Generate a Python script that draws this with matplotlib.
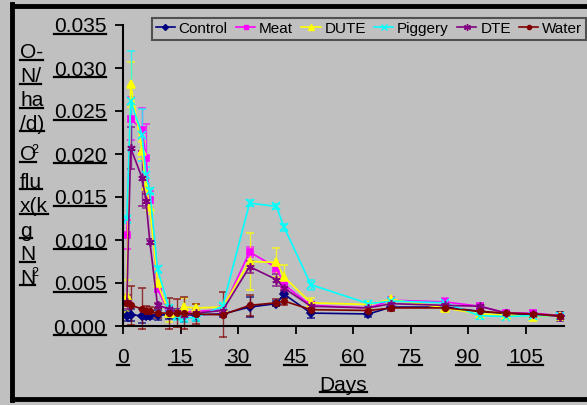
import numpy as np
import matplotlib
matplotlib.use("Agg")
import matplotlib.pyplot as plt
from matplotlib.lines import Line2D
from matplotlib.ticker import FormatStrFormatter, MultipleLocator

plt.rcParams['font.family'] = ['Liberation Sans', 'DejaVu Sans']

# sampling days
days = [1, 2, 5, 6, 7, 9, 12, 14, 16, 19, 26, 33, 40, 42, 49, 64, 70, 84, 93, 100, 107, 114]

# N2O flux (kg N2O-N/ha/d) and standard errors per treatment
control = [0.0012, 0.0013, 0.0012, 0.0012, 0.0012, 0.0013, 0.0013, 0.0014, 0.0013, 0.0013, 0.0014,
           0.0022, 0.0026, 0.0037, 0.0015, 0.0014, 0.0022, 0.0022, 0.0017, 0.0014, 0.0013, 0.0012]
control_err = [0.0006, 0.0007, 0.0008, 0.0004, 0.0004, 0.0006, 0.0005, 0.0006, 0.0008, 0.0007, 0.0004,
               0.0012, 0.0003, 0.0005, 0.0006, 0.0003, 0.0003, 0.0003, 0.0003, 0.0003, 0.0003, 0.0004]

meat = [0.0106, 0.0241, 0.0228, 0.0195, 0.0147, 0.0043, 0.0016, 0.0014, 0.0016, 0.0017, 0.0019,
        0.0086, 0.0068, 0.0048, 0.0024, 0.0021, 0.0030, 0.0028, 0.0023, 0.0015, 0.0015, 0.0012]
meat_err = [0.0017, 0.0025, 0.0025, 0.0040, 0.0010, 0.0004, 0.0004, 0.0003, 0.0004, 0.0004, 0.0004,
            0.0006, 0.0005, 0.0004, 0.0004, 0.0003, 0.0003, 0.0004, 0.0003, 0.0003, 0.0003, 0.0004]

dute = [0.0035, 0.0281, 0.0204, 0.0163, 0.0138, 0.0050, 0.0015, 0.0015, 0.0022, 0.0021, 0.0022,
        0.0075, 0.0074, 0.0057, 0.0027, 0.0025, 0.0031, 0.0021, 0.0014, 0.0013, 0.0011, 0.0012]
dute_err = [0.0019, 0.0026, 0.0010, 0.0008, 0.0008, 0.0004, 0.0010, 0.0004, 0.0011, 0.0005, 0.0005,
            0.0033, 0.0017, 0.0014, 0.0006, 0.0003, 0.0003, 0.0005, 0.0003, 0.0003, 0.0003, 0.0004]

piggery = [0.0124, 0.0262, 0.0222, 0.0175, 0.0157, 0.0066, 0.0021, 0.0012, 0.0009, 0.0010, 0.0023,
           0.0143, 0.0139, 0.0115, 0.0048, 0.0026, 0.0029, 0.0027, 0.0012, 0.0011, 0.0012, 0.0012]
piggery_err = [0.0004, 0.0058, 0.0030, 0.0010, 0.0004, 0.0004, 0.0003, 0.0005, 0.0004, 0.0004, 0.0004,
               0.0003, 0.0003, 0.0004, 0.0006, 0.0003, 0.0003, 0.0003, 0.0004, 0.0003, 0.0003, 0.0004]

dte = [0.0028, 0.0207, 0.0172, 0.0145, 0.0098, 0.0024, 0.0020, 0.0016, 0.0013, 0.0015, 0.0018,
       0.0069, 0.0054, 0.0044, 0.0023, 0.0021, 0.0026, 0.0024, 0.0023, 0.0015, 0.0014, 0.0011]
dte_err = [0.0008, 0.0024, 0.0032, 0.0008, 0.0003, 0.0003, 0.0003, 0.0003, 0.0003, 0.0003, 0.0003,
           0.0007, 0.0007, 0.0005, 0.0005, 0.0003, 0.0003, 0.0003, 0.0003, 0.0003, 0.0003, 0.0005]

water = [0.0027, 0.0024, 0.0020, 0.0018, 0.0017, 0.0015, 0.0015, 0.0015, 0.0015, 0.0014, 0.0013,
         0.0024, 0.0027, 0.0029, 0.0019, 0.0018, 0.0021, 0.0021, 0.0017, 0.0015, 0.0014, 0.0012]
water_err = [0.0004, 0.0023, 0.0024, 0.0005, 0.0005, 0.0006, 0.0018, 0.0016, 0.0019, 0.0012, 0.0026,
             0.0012, 0.0004, 0.0004, 0.0004, 0.0003, 0.0003, 0.0003, 0.0003, 0.0003, 0.0003, 0.0004]

series = [
    ('Control', control, control_err, '#000080', 'D', 4),
    ('Meat', meat, meat_err, '#FF00FF', 's', 4),
    ('DUTE', dute, dute_err, '#FFFF00', '^', 6),
    ('Piggery', piggery, piggery_err, '#00FFFF', 'x', 6),
    ('DTE', dte, dte_err, '#800080', (6, 2, 0), 6),
    ('Water', water, water_err, '#800000', 'o', 4),
]

bg = '#C0C0C0'
W, H = 587, 405
fig = plt.figure(figsize=(W / 100, H / 100), dpi=100, facecolor=bg)
ax = fig.add_axes([123 / W, 1 - 326 / H, (564 - 123) / W, (326 - 25) / H], facecolor=bg)

handles = []
for name, vals, err, col, mk, ms in series:
    eb = ax.errorbar(days, vals, yerr=err, color=col, ecolor=col, elinewidth=1.0,
                     capsize=3, capthick=1.0, lw=1.2, marker=mk, ms=ms,
                     mec=col, mfc=col, mew=1.2, clip_on=False)
    for art in eb.lines[1] + eb.lines[2]:
        art.set_alpha(0.75)
        art.set_clip_on(False)
    handles.append(Line2D([], [], color=col, lw=1.2, marker=mk, ms=ms - 1,
                          mec=col, mfc=col, label=name))

ax.set_xlim(0, 115)
ax.set_ylim(0, 0.035)
ax.xaxis.set_major_locator(MultipleLocator(15))
ax.yaxis.set_major_locator(MultipleLocator(0.005))
ax.xaxis.set_major_formatter(FormatStrFormatter('%d'))
ax.yaxis.set_major_formatter(FormatStrFormatter('%.3f'))
for side in ['top', 'right']:
    ax.spines[side].set_visible(False)
for side in ['left', 'bottom']:
    ax.spines[side].set_linewidth(1.5)
ax.tick_params(axis='both', direction='out', length=6, width=1.3, labelsize=15, colors='black')
ax.tick_params(axis='x', pad=10)
ax.tick_params(axis='y', pad=6)

ax.set_xlabel('Days', fontsize=15, labelpad=6)

# wrapped y axis title as Excel drew it
ylab_lines = [('O-', 53), ('N/', 77), ('ha', 101), ('/d)', 124), ('O', 155),
              ('flu', 182), ('x(k', 207), ('g', 231), ('N', 255), ('N', 278)]
ylab_texts = []
for txt, ypix in ylab_lines:
    ylab_texts.append(fig.text(20 / W, 1 - ypix / H, txt, fontsize=15, ha='left', va='center'))
for ypix in (150, 273):
    fig.text(31 / W, 1 - ypix / H, '2', fontsize=9, ha='left', va='center')

leg = fig.legend(handles=handles, loc='upper left', bbox_to_anchor=(152 / W, 1 - 18 / H),
                 ncol=6, fontsize=11, handlelength=1.25, handletextpad=0.25,
                 columnspacing=0.55, borderpad=0.25, borderaxespad=0, frameon=True,
                 fancybox=False, facecolor=bg, edgecolor='#505050', framealpha=1)
leg.get_frame().set_linewidth(1.5)

# black frame around the chart area
for xs, ys in [([12, 12], [4, 400]), ([12, 600], [5.5, 5.5]), ([12, 600], [399, 399])]:
    fig.add_artist(Line2D([x / W for x in xs], [1 - y / H for y in ys], color='black',
                          lw=3.5, transform=fig.transFigure))

# underline every label, Excel style
fig.canvas.draw()
renderer = fig.canvas.get_renderer()
x0, x1 = ax.get_xlim()
y0, y1 = ax.get_ylim()
tick_labels = [t.label1 for t in ax.xaxis.get_major_ticks() if x0 - 1e-9 <= t.get_loc() <= x1 + 1e-9]
tick_labels += [t.label1 for t in ax.yaxis.get_major_ticks() if y0 - 1e-9 <= t.get_loc() <= y1 + 1e-9]
to_underline = tick_labels + [ax.xaxis.label] + leg.get_texts() + ylab_texts
for t in to_underline:
    if not t.get_visible() or not t.get_text():
        continue
    bb = t.get_window_extent(renderer)
    fs_px = t.get_fontsize() * 100 / 72
    y = bb.y0 + 0.1 * fs_px
    lw = 1.6 if t.get_fontsize() > 12 else 1.2
    fig.add_artist(Line2D([bb.x0 / W, bb.x1 / W], [y / H, y / H], color='black',
                          lw=lw, transform=fig.transFigure))

fig.savefig('out.png', dpi=100, facecolor=bg)
